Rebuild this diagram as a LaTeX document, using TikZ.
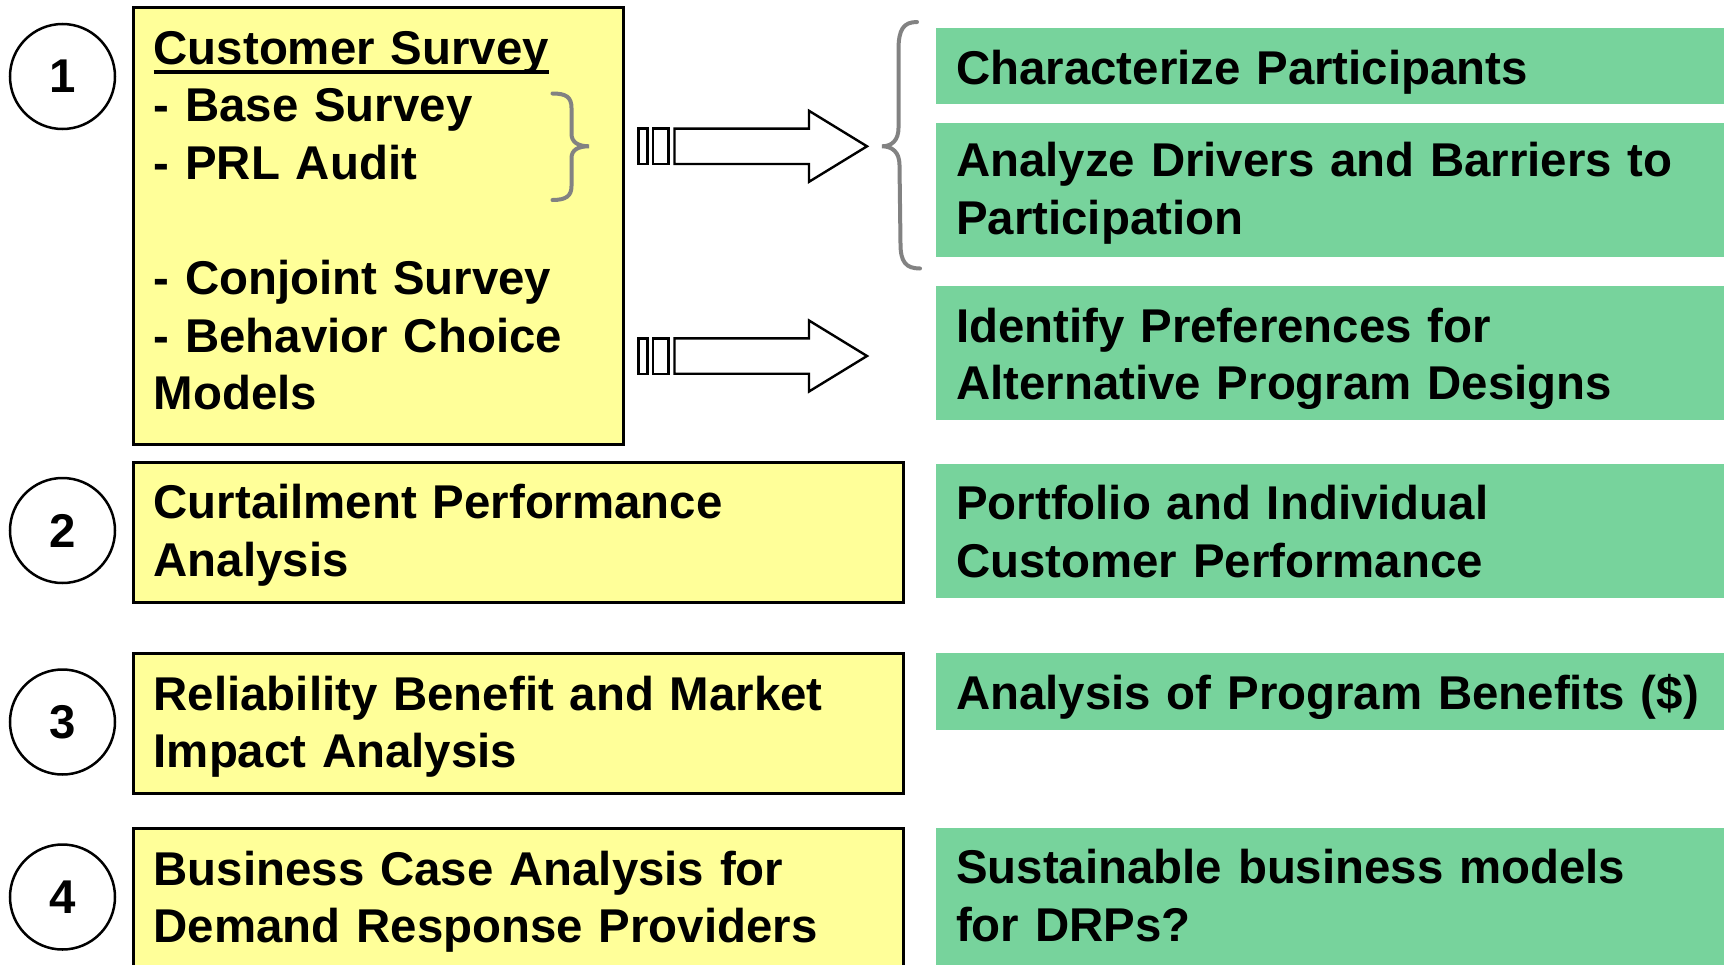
\documentclass[tikz,border=0pt]{standalone}
\usepackage{fontspec}
\setmainfont{Liberation Sans}

\definecolor{padyellow}{HTML}{FFFF99}
\definecolor{leafgreen}{HTML}{77D39C}
\definecolor{bracegray}{HTML}{828282}

% thick underline for the survey heading
\newcommand\ulined[1]{\setbox0\hbox{#1}\rlap{\rule[-10pt]{\wd0}{4pt}}\box0}

\tikzset{
  big/.style={font=\fontsize{47.4}{57.6}\selectfont\bfseries},
  numcircle/.style={big, draw, circle, line width=2.5pt, minimum size=105pt, inner sep=0pt},
  stagebox/.style={draw, line width=2.6pt, fill=padyellow, anchor=north west, inner sep=0pt},
  resultbox/.style={fill=leafgreen, anchor=north west, inner sep=0pt, minimum width=800pt},
  boxtext/.style={big, anchor=base west, inner sep=0pt, text width=760pt, align=left},
  hollow/.style={draw, fill=white, line width=2.4pt, line join=miter},
  curly/.style={draw=bracegray, line width=4pt, line cap=round}
}

\begin{document}
\begin{tikzpicture}[x=1pt, y=-1pt]
\useasboundingbox (0,0) rectangle (1724,964);

% step numbers
\node[numcircle] (n1) at (62.5,76.5) {1};
\node[numcircle] (n2) at (62.5,530.5) {2};
\node[numcircle] (n3) at (62.5,722) {3};
\node[numcircle] (n4) at (62.5,897) {4};

% analysis steps
\node[stagebox, minimum width=490pt, minimum height=437pt] (s1) at (132,6) {};
\node[stagebox, minimum width=770pt, minimum height=140pt] (s2) at (132,461) {};
\node[stagebox, minimum width=770pt, minimum height=140pt] (s3) at (132,652) {};
\node[stagebox, minimum width=770pt, minimum height=160pt] (s4) at (132,827) {};

\node[boxtext] (t1) at (153.5,64) {\ulined{Customer Survey}\\- Base Survey\\- PRL Audit\\\mbox{}\\- Conjoint Survey\\- Behavior Choice\\Models};
\node[boxtext] (t2) at (153.5,518.5) {Curtailment Performance\\Analysis};
\node[boxtext] (t3) at (153.5,710) {Reliability Benefit and Market\\Impact Analysis};
\node[boxtext] (t4) at (153.5,885) {Business Case Analysis for\\Demand Response Providers};

% outcomes
\node[resultbox, minimum height=76pt] (r1) at (936,27.5) {};
\node[resultbox, minimum height=134pt] (r2) at (936,122.5) {};
\node[resultbox, minimum height=134pt] (r3) at (936,286) {};
\node[resultbox, minimum height=134pt] (r4) at (936,464) {};
\node[resultbox, minimum height=77pt] (r5) at (936,653) {};
\node[resultbox, minimum height=150pt] (r6) at (936,828) {};

\node[boxtext] (o1) at (956,84) {Characterize Participants};
\node[boxtext] (o2) at (956,176.5) {Analyze Drivers and Barriers to\\Participation};
\node[boxtext] (o3) at (956,342) {Identify Preferences for\\Alternative Program Designs};
\node[boxtext] (o4) at (956,519.5) {Portfolio and Individual\\Customer Performance};
\node[boxtext] (o5) at (956,709) {Analysis of Program Benefits (\$)};
\node[boxtext] (o6) at (956,883.5) {Sustainable business models\\for DRPs?};

% block arrows with striped tails
\foreach \y in {146.3,356}{
  \draw[hollow] (638.5,\y-17.7) rectangle (647.5,\y+17.7);
  \draw[hollow] (653,\y-17.7) rectangle (668.5,\y+17.7);
  \draw[hollow] (674.5,\y-17.7) -- (809,\y-17.7) -- (809,\y-35.5) -- (867,\y)
    -- (809,\y+35.5) -- (809,\y+17.7) -- (674.5,\y+17.7) -- cycle;
}

% braces
\draw[curly] (552.5,93.5) .. controls (566,93.5) and (571.5,97) .. (571.5,108)
  -- (571.5,134) .. controls (571.5,142) and (578,146.3) .. (589,146.3)
  .. controls (578,146.3) and (571.5,150) .. (571.5,158)
  -- (571.5,186) .. controls (571.5,196) and (566,200) .. (552.5,200);
\draw[curly] (917,22) .. controls (903,22) and (898.5,30) .. (898.5,50)
  -- (898.5,128) .. controls (898.5,140) and (892,146.3) .. (882,146.3)
  .. controls (892,146.3) and (899.5,152) .. (899.5,165)
  -- (900.5,244) .. controls (900.5,262) and (906,268.5) .. (920,268.5);

\end{tikzpicture}
\end{document}
